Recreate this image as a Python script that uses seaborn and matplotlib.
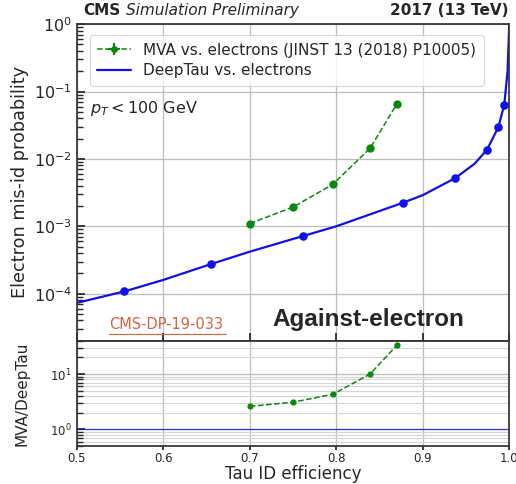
import numpy as np
import pandas as pd
import matplotlib
matplotlib.use("Agg")
import matplotlib.pyplot as plt
import seaborn as sns
from matplotlib.lines import Line2D

# ---- data ----
mva_eff = [0.700, 0.750, 0.796, 0.839, 0.870]
mva_misid = [1.10e-3, 1.93e-3, 4.2e-3, 1.44e-2, 6.55e-2]

deep_curve_eff = [0.500, 0.555, 0.600, 0.6555, 0.700, 0.762, 0.800, 0.8776,
                  0.900, 0.9376, 0.960, 0.9742, 0.9873, 0.9942, 0.998, 1.000]
deep_curve_misid = [7.3e-5, 1.08e-4, 1.6e-4, 2.76e-4, 4.2e-4, 7.2e-4, 1.0e-3, 2.25e-3,
                    2.9e-3, 5.2e-3, 8.5e-3, 1.37e-2, 2.95e-2, 6.4e-2, 0.2, 1.0]

deep_wp_eff = [0.555, 0.6555, 0.762, 0.8776, 0.9376, 0.9742, 0.9873, 0.9942]
deep_wp_misid = [1.08e-4, 2.76e-4, 7.2e-4, 2.25e-3, 5.2e-3, 1.37e-2, 2.95e-2, 6.4e-2]

ratio_eff = [0.700, 0.750, 0.796, 0.839, 0.870]
ratio_val = [2.6, 3.1, 4.3, 10.0, 33.0]
ref_eff = [0.5, 1.0]
ref_val = [1.0, 1.0]

x_ticks = [0.5, 0.6, 0.7, 0.8, 0.9, 1.0]

mva_label = "MVA vs. electrons (JINST 13 (2018) P10005)"
deep_label = "DeepTau vs. electrons"

sns.set_theme(style="ticks")
plt.rcParams['font.family'] = ['DejaVu Sans']

green = "#0a8a0a"
blue = "#1010ee"

fig = plt.figure(figsize=(5.16, 4.84), dpi=100)
ax = fig.add_axes([0.149, 0.296, 0.838, 0.654])
axr = fig.add_axes([0.149, 0.0785, 0.838, 0.2175], sharex=ax)

df_deep = pd.DataFrame({"eff": deep_curve_eff, "misid": deep_curve_misid})
df_deep_wp = pd.DataFrame({"eff": deep_wp_eff, "misid": deep_wp_misid})
df_mva = pd.DataFrame({"eff": mva_eff, "misid": mva_misid})

sns.lineplot(data=df_deep, x="eff", y="misid", ax=ax, color=blue, lw=1.6,
             sort=False, estimator=None)
sns.scatterplot(data=df_deep_wp, x="eff", y="misid", ax=ax, color=blue, s=38,
                edgecolor=blue, linewidth=0, zorder=5)
sns.lineplot(data=df_mva, x="eff", y="misid", ax=ax, color=green, lw=1.1,
             linestyle="--", marker="o", markersize=6, markeredgewidth=0,
             sort=False, estimator=None)

ax.set_yscale("log")
ax.set_xlim(0.5, 1.0)
ax.set_ylim(2e-5, 1.0)
ax.grid(True, which="major", color="#bdbdbd", lw=0.9)
ax.tick_params(axis="both", which="both", direction="in", labelsize=11.5)
ax.tick_params(axis="x", labelbottom=False)
ax.set_xlabel("")
ax.set_ylabel("Electron mis-id probability", fontsize=12.7)
for s in ax.spines.values():
    s.set_color("#333333")

# legend
proxy_mva = Line2D([], [], color=green, ls="--", lw=1.1, marker="+",
                   markersize=9, markeredgewidth=1.5)
proxy_mva2 = Line2D([], [], color=green, ls="none", marker="o", markersize=5,
                    markeredgewidth=0)
proxy_deep = Line2D([], [], color=blue, lw=1.6)
leg = ax.legend([(proxy_mva, proxy_mva2), proxy_deep], [mva_label, deep_label],
                loc="upper left", bbox_to_anchor=(0.012, 0.99), fontsize=11,
                frameon=True, fancybox=True, handlelength=2.2, borderpad=0.5,
                labelspacing=0.35)
leg.get_frame().set_edgecolor("#cccccc")
leg.get_frame().set_linewidth(0.8)

ax.text(0.03, 0.735, r"$p_T < 100$ GeV", transform=ax.transAxes, fontsize=11.5,
        va="center", ha="left")
ax.text(0.075, 0.052, "CMS-DP-19-033", transform=ax.transAxes, fontsize=10.5,
        color="#d9623b", va="center", ha="left")
ax.text(0.675, 0.068, "Against-electron", transform=ax.transAxes, fontsize=17.5,
        fontweight="bold", family=["Liberation Sans", "DejaVu Sans"],
        va="center", ha="center")
# underline of the reference code
ax.plot([0.075, 0.346], [0.021, 0.021], transform=ax.transAxes, color="#d9623b",
        lw=0.8, clip_on=False)

fig.text(0.161, 0.962, "CMS", fontsize=11, fontweight="bold", ha="left", va="bottom")
fig.text(0.245, 0.962, "Simulation Preliminary", fontsize=11, style="italic",
         ha="left", va="bottom")
fig.text(0.985, 0.962, "2017 (13 TeV)", fontsize=11, fontweight="bold",
         ha="right", va="bottom")

# ratio panel
df_ratio = pd.DataFrame({"eff": ratio_eff, "ratio": ratio_val})
df_ref = pd.DataFrame({"eff": ref_eff, "ratio": ref_val})
sns.lineplot(data=df_ref, x="eff", y="ratio", ax=axr, color=blue, lw=0.9,
             alpha=0.8, estimator=None)
sns.lineplot(data=df_ratio, x="eff", y="ratio", ax=axr, color=green, lw=1.1,
             linestyle="--", marker="o", markersize=4.5, markeredgewidth=0,
             estimator=None)
axr.set_yscale("log")
axr.set_ylim(0.5, 40)
axr.set_xlim(0.5, 1.0)
axr.set_xticks(x_ticks)
axr.grid(True, which="major", color="#bdbdbd", lw=0.9)
axr.grid(True, which="minor", axis="y", color="#d5d5d5", lw=0.8)
axr.tick_params(axis="y", which="both", direction="in", labelsize=8.5)
axr.tick_params(axis="x", which="both", direction="out", labelsize=8.5,
                pad=1.5, length=3)
axr.set_xlabel("Tau ID efficiency", fontsize=12, labelpad=0)
axr.set_ylabel("MVA/DeepTau", fontsize=11)
axr.yaxis.set_label_coords(-0.11, 0.5)
ax.yaxis.set_label_coords(-0.11, 0.5)
for s in axr.spines.values():
    s.set_color("#333333")

fig.savefig("out.png", dpi=100)
